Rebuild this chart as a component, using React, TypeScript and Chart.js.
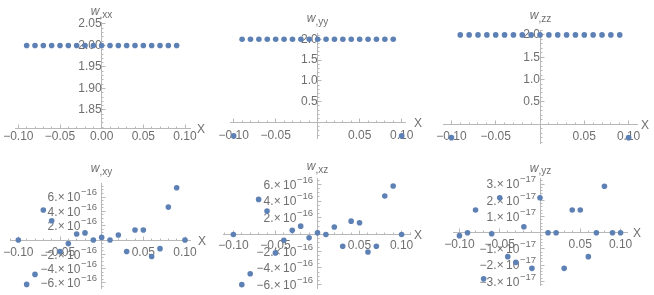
import React, { useEffect, useRef } from 'react';
import { Chart, registerables } from 'chart.js';

Chart.register(...registerables);

// ---------- data ----------
const xGrid = [-0.1, -0.09, -0.08, -0.07, -0.06, -0.05, -0.04, -0.03, -0.02, -0.01, 0, 0.01, 0.02, 0.03, 0.04, 0.05, 0.06, 0.07, 0.08, 0.09, 0.1];

const wxx = [null, 2, 2, 2, 2, 2, 2, 2, 2, 2, 2, 2, 2, 2, 2, 2, 2, 2, 2, 2, null];
const wyy = [-0.32, 2, 2, 2, 2, 2, 2, 2, 2, 2, 2, 2, 2, 2, 2, 2, 2, 2, 2, 2, -0.32];
const wzz = [-0.3, 2, 2, 2, 2, 2, 2, 2, 2, 2, 2, 2, 2, 2, 2, 2, 2, 2, 2, 2, -0.3];
const wxy = [0, -6.2e-16, -4.8e-16, 4.2e-16, 2.7e-16, -1.6e-16, -0.5e-16, 0.84e-16, 1.0e-16, 0, 0.37e-16, 0, 0.7e-16, -1.6e-16, 1.4e-16, 1.4e-16, -2.3e-16, -1.2e-16, 4.6e-16, 7.3e-16, 0];
const wxz = [0, -6.0e-16, -4.7e-16, 4.2e-16, 2.8e-16, -2.2e-16, -0.7e-16, 0.5e-16, 1.0e-16, -0.4e-16, 0.2e-16, 0, 0.9e-16, -1.4e-16, 1.6e-16, 1.4e-16, -2.1e-16, -1.4e-16, 4.6e-16, 5.8e-16, 0];
const wyz = [-0.18e-17, 0, 1.4e-17, -2.85e-17, -0.06e-17, 2.16e-17, -1.48e-17, -1.83e-17, 0.37e-17, -2.2e-17, 2.16e-17, 0, 0, -2.2e-17, 1.4e-17, 1.4e-17, -1.48e-17, 0, 2.87e-17, 0, 0];

const xTicksWithZero = [-0.1, -0.05, 0, 0.05, 0.1];
const xTicks = [-0.1, -0.05, 0.05, 0.1];
const yTicksXX = [1.85, 1.9, 1.95, 2.0, 2.05];
const yTicksHalf = [0.5, 1.0, 1.5, 2.0];
const yTicks16 = [-6e-16, -4e-16, -2e-16, 2e-16, 4e-16, 6e-16];
const yTicks17 = [-3e-17, -2e-17, -1e-17, 1e-17, 2e-17, 3e-17];

// ---------- style ----------
const W = 654;
const H = 295;
const M = 60; // off-page margin so label overflow never moves the plot area
const AXIS = '#b8b8b8';
const LABEL = '#6f6f6f';
const DOT = '#5e81b5';
const FAMILY = '"Liberation Sans", Arial, sans-serif';

const MINUS = '\u2212';
const fixed = (d: number) => (v: number) => (v < 0 ? MINUS : '') + Math.abs(v).toFixed(d);

type Spec = {
  sub: string;
  ys: (number | null)[];
  area: [number, number, number, number];
  xr: [number, number];
  yr: [number, number];
  xAxisAt: number;
  xt: number[];
  xm: number;
  yt: number[];
  ym: number;
  yfmt: ((v: number) => string) | null;
  exp: number;
  gap: number;
  xPad: number;
  xName: number;
};

const panels: Spec[] = [
  { sub: 'xx', ys: wxx, area: [15, 22.7, 190, 128], xr: [-0.104, 0.106], yr: [1.808, 2.053], xAxisAt: 1.808, xt: xTicksWithZero, xm: 0.01, yt: yTicksXX, ym: 0.01, yfmt: fixed(2), exp: 0, gap: 7.5, xPad: 8, xName: 197 },
  { sub: 'yy', ys: wyy, area: [230, 33, 405, 138], xr: [-0.1044, 0.104], yr: [-0.37, 2.15], xAxisAt: 0, xt: xTicks, xm: 0.01, yt: yTicksHalf, ym: 0.1, yfmt: fixed(1), exp: 0, gap: 11, xPad: 13, xName: 414 },
  { sub: 'zz', ys: wzz, area: [443, 30, 637, 143], xr: [-0.1095, 0.1095], yr: [-0.42, 2.11], xAxisAt: 0, xt: xTicks, xm: 0.01, yt: yTicksHalf, ym: 0.1, yfmt: fixed(1), exp: 0, gap: 10.7, xPad: 12, xName: 641 },
  { sub: 'xy', ys: wxy, area: [10, 183, 190, 288], xr: [-0.11, 0.106], yr: [-6.7e-16, 7.97e-16], xAxisAt: 0, xt: xTicks, xm: 0.01, yt: yTicks16, ym: 0.5e-16, yfmt: null, exp: -16, gap: 11, xPad: 12, xName: 198 },
  { sub: 'xz', ys: wxz, area: [223.3, 178, 410, 288], xr: [-0.112, 0.11], yr: [-6.4e-16, 6.76e-16], xAxisAt: 0, xt: xTicks, xm: 0.01, yt: yTicks16, ym: 0.5e-16, yfmt: null, exp: -16, gap: 8, xPad: 11, xName: 414 },
  { sub: 'yz', ys: wyz, area: [453, 178, 627, 285], xr: [-0.108, 0.108], yr: [-3.23e-17, 3.38e-17], xAxisAt: 0, xt: xTicks, xm: 0.01, yt: yTicks17, ym: 0.2e-17, yfmt: null, exp: -17, gap: 6.3, xPad: 12, xName: 633 },
];

function minors(r: [number, number], step: number, majors: number[]): number[] {
  const out: number[] = [];
  const k0 = Math.ceil(r[0] / step - 1e-6);
  const k1 = Math.floor(r[1] / step + 1e-6);
  for (let k = k0; k <= k1; k++) {
    const v = k * step;
    if (Math.abs(v) < step * 1e-3) continue;
    if (majors.some((m) => Math.abs(m - v) < step * 1e-3)) continue;
    out.push(v);
  }
  return out;
}

const align = (p: number) => Math.round(p - 0.5) + 0.5;

function mmaPlugin(spec: Spec) {
  return {
    id: 'mmaAxes',
    beforeDatasetsDraw(chart: any) {
      const { ctx } = chart;
      const xs = chart.scales.x;
      const ys = chart.scales.y;
      const ax = align(xs.getPixelForValue(0));
      const ay = align(ys.getPixelForValue(spec.xAxisAt));
      ctx.save();
      ctx.strokeStyle = AXIS;
      ctx.lineWidth = 1;
      ctx.beginPath();
      for (const v of spec.xt) {
        const p = align(xs.getPixelForValue(v));
        ctx.moveTo(p, ay);
        ctx.lineTo(p, ay - 4);
      }
      for (const v of minors(spec.xr, spec.xm, spec.xt)) {
        const p = align(xs.getPixelForValue(v));
        ctx.moveTo(p, ay);
        ctx.lineTo(p, ay - 2);
      }
      for (const v of spec.yt) {
        const p = align(ys.getPixelForValue(v));
        ctx.moveTo(ax, p);
        ctx.lineTo(ax + 4, p);
      }
      for (const v of minors(spec.yr, spec.ym, spec.yt)) {
        const p = align(ys.getPixelForValue(v));
        ctx.moveTo(ax, p);
        ctx.lineTo(ax + 2, p);
      }
      ctx.stroke();

      ctx.fillStyle = LABEL;

      // x tick labels (from the x scale's ticks)
      ctx.font = `12px ${FAMILY}`;
      ctx.textAlign = 'center';
      ctx.textBaseline = 'middle';
      for (const t of xs.ticks) {
        ctx.fillText(fixed(2)(t.value), xs.getPixelForValue(t.value), ay + spec.xPad);
      }

      ctx.textBaseline = 'alphabetic';
      ctx.textAlign = 'left';

      // scientific y tick labels
      if (spec.exp) {
        const right = ax - 4.5;
        for (const t of ys.ticks) {
          const v = t.value;
          const py = ys.getPixelForValue(v);
          const m = Math.round(v / Math.pow(10, spec.exp));
          const main = (m < 0 ? MINUS : '') + Math.abs(m) + '.\u00d7\u200910';
          const sup = (spec.exp < 0 ? MINUS : '') + Math.abs(spec.exp);
          ctx.font = `9.5px ${FAMILY}`;
          const sw = ctx.measureText(sup).width;
          ctx.font = `12px ${FAMILY}`;
          const mw = ctx.measureText(main).width;
          const base = py + 4.3;
          ctx.fillText(main, right - sw - mw - 0.5, base);
          ctx.font = `9.5px ${FAMILY}`;
          ctx.fillText(sup, right - sw, base - 6);
        }
      }

      // axis names
      const top = ys.top;
      ctx.font = `12px ${FAMILY}`;
      ctx.fillText('X', spec.xName + M, ay + 4.3);

      ctx.font = `italic 12px ${FAMILY}`;
      const ww = ctx.measureText('w').width;
      ctx.font = `10px ${FAMILY}`;
      const subTxt = ',' + spec.sub;
      const swd = ctx.measureText(subTxt).width;
      const x0 = ax - (ww + swd) / 2;
      const base = top - spec.gap;
      ctx.font = `italic 12px ${FAMILY}`;
      ctx.fillText('w', x0, base);
      ctx.font = `10px ${FAMILY}`;
      ctx.fillText(subTxt, x0 + ww, base + 2.5);
      ctx.restore();
    },
  };
}

function Panel({ spec }: { spec: Spec }) {
  const ref = useRef<HTMLCanvasElement>(null);
  useEffect(() => {
    const [L, T, R, B] = spec.area;
    const data = xGrid
      .map((x, i) => ({ x, y: spec.ys[i] }))
      .filter((d) => d.y !== null);
    const chart = new Chart(ref.current as HTMLCanvasElement, {
      type: 'scatter',
      data: {
        datasets: [
          {
            data: data as any,
            pointRadius: 2.8,
            pointHoverRadius: 2.8,
            backgroundColor: DOT,
            pointBackgroundColor: DOT,
            borderWidth: 0,
            pointBorderWidth: 0,
            clip: false as any,
          },
        ],
      },
      options: {
        responsive: false,
        animation: false,
        events: [],
        layout: { padding: { left: L + M, top: T + M, right: W - R + M, bottom: H - B + M } },
        plugins: { legend: { display: false }, tooltip: { enabled: false } },
        scales: {
          x: {
            type: 'linear',
            min: spec.xr[0],
            max: spec.xr[1],
            bounds: 'data',
            position: { y: spec.xAxisAt } as any,
            afterBuildTicks: (s: any) => {
              s.ticks = spec.xt.map((v) => ({ value: v }));
            },
            grid: { display: true, drawOnChartArea: false, drawTicks: false, color: 'rgba(0,0,0,0)' },
            border: { display: true, color: AXIS, width: 1 },
            ticks: { display: false, autoSkip: false, maxRotation: 0, minRotation: 0 },
          },
          y: {
            type: 'linear',
            min: spec.yr[0],
            max: spec.yr[1],
            bounds: 'data',
            position: { x: 0 } as any,
            afterBuildTicks: (s: any) => {
              s.ticks = spec.yt.map((v) => ({ value: v }));
            },
            grid: { display: true, drawOnChartArea: false, drawTicks: false, color: 'rgba(0,0,0,0)' },
            border: { display: true, color: AXIS, width: 1 },
            ticks: {
              display: spec.yfmt !== null,
              autoSkip: false,
              padding: 3,
              color: LABEL,
              font: { family: FAMILY, size: 12 },
              callback: (v: any) => (spec.yfmt ? spec.yfmt(Number(v)) : ''),
            },
          },
        },
      } as any,
      plugins: [mmaPlugin(spec) as any],
    });
    return () => chart.destroy();
  }, [spec]);
  return (
    <canvas
      ref={ref}
      width={W + 2 * M}
      height={H + 2 * M}
      style={{ position: 'absolute', left: -M, top: -M }}
    />
  );
}

export default function App() {
  return (
    <div style={{ position: 'fixed', left: 0, top: 0, width: W, height: H, background: '#fff', overflow: 'hidden' }}>
      {panels.map((p) => (
        <Panel key={p.sub} spec={p} />
      ))}
    </div>
  );
}
